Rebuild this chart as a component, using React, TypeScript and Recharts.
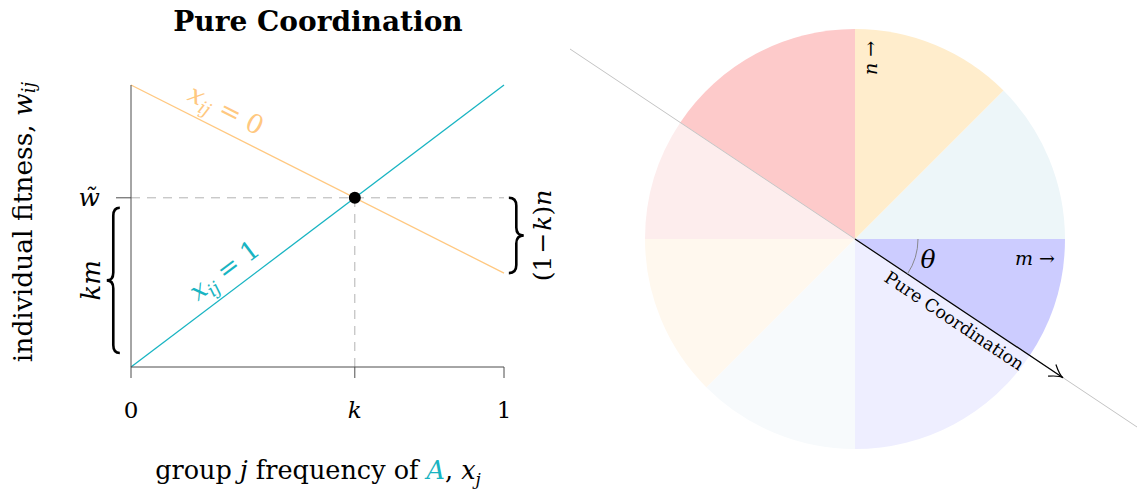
import React from 'react';
import {
  LineChart,
  Line,
  XAxis,
  YAxis,
  ReferenceLine,
  ReferenceDot,
  ReferenceArea,
  PieChart,
  Pie,
  Cell,
  Customized,
} from 'recharts';

const FONT = '"DejaVu Serif", "Liberation Serif", serif';
const INK = '#000000';
const AXIS = '#4d4d4d';
const ORANGE = '#FFC880';
const TEAL = '#18B4C2';
const GUIDE = '#b3b3b3';

// ---- left panel: fitness against group frequency ----
const groupFrequency = [0, 1];
const fitnessWithA = [0, 1]; // x_ij = 1
const fitnessWithoutA = [1, 0.333]; // x_ij = 0
const thresholdK = 0.6;
const meanFitness = 0.6;
const freqTicks = [0, 0.6, 1];
const freqTickLabels = ['0', 'k', '1'];

// ---- right panel: game-space wedges, degrees counter-clockwise from the m axis ----
const wedgeNames = [
  'upper-right',
  'upper',
  'upper-left (above)',
  'upper-left (below)',
  'lower-left',
  'lower',
  'lower-right (below)',
  'lower-right (above)',
];
const wedgeSpans = [45, 45, 56.31, 33.69, 45, 45, 56.31, 33.69];
const wedgeColors = ['#EDF6F9', '#FFEDCC', '#FDCACA', '#FDEDED', '#FFF8EE', '#F7FAFC', '#EEEEFF', '#CCCCFF'];
const thetaDeg = 33.69;

const lineData = groupFrequency.map((x, i) => ({
  x,
  withA: fitnessWithA[i],
  withoutA: fitnessWithoutA[i],
}));

const wedgeData = wedgeNames.map((name, i) => ({ name, span: wedgeSpans[i] }));

// plot box of the left panel (pixels)
const PLOT_W = 373;
const PLOT_H = 282;

const onLine = (series: number[], x: number) => series[0] + (series[1] - series[0]) * x;
const slopeAngle = (series: number[]) =>
  (Math.atan2(-(series[1] - series[0]) * PLOT_H, PLOT_W) * 180) / Math.PI;

const FreqTick = (props: any) => {
  const idx = freqTicks.indexOf(props.payload.value);
  const label = freqTickLabels[idx] ?? '';
  return (
    <text
      x={props.x}
      y={props.y + 38}
      textAnchor="middle"
      fontFamily={FONT}
      fontSize={23}
      fontStyle={label === 'k' ? 'italic' : 'normal'}
      fill={INK}
    >
      {label}
    </text>
  );
};

const FitnessTick = (props: any) => (
  <text x={props.x - 14} y={props.y + 8} textAnchor="end" fontFamily={FONT} fontSize={25} fontStyle="italic" fill={INK}>
    {'w\u0303'}
  </text>
);

const lineLabel =
  (series: number[], color: string, value: string) =>
  (props: any) => (
    <g transform={`translate(${props.cx},${props.cy}) rotate(${slopeAngle(series)})`}>
      <text x={0} y={-12} textAnchor="middle" fontFamily={FONT} fontSize={26} fill={color}>
        <tspan fontStyle="italic">x</tspan>
        <tspan fontStyle="italic" fontSize={18} dy={6}>
          ij
        </tspan>
        <tspan dy={-6} dx={8}>
          =
        </tspan>
        <tspan dx={8}>{value}</tspan>
      </text>
    </g>
  );

const bracePath = (x0: number, x1: number, top: number, bottom: number) => {
  // x0 = tip side, x1 = open side
  const xm = (x0 + x1) / 2;
  const ym = (top + bottom) / 2;
  const q = 8;
  return [
    `M ${x1} ${top}`,
    `Q ${xm} ${top} ${xm} ${top + q}`,
    `L ${xm} ${ym - q}`,
    `Q ${xm} ${ym} ${x0} ${ym}`,
    `Q ${xm} ${ym} ${xm} ${ym + q}`,
    `L ${xm} ${bottom - q}`,
    `Q ${xm} ${bottom} ${x1} ${bottom}`,
  ].join(' ');
};

const LeftBrace = (props: any) => {
  const { x, y, width, height } = props;
  const top = y + 10;
  const bottom = y + height - 14;
  return (
    <g>
      <path d={bracePath(x, x + width, top, bottom)} fill="none" stroke={INK} strokeWidth={2.6} />
      <text
        transform={`translate(${x - 16},${(top + bottom) / 2}) rotate(-90)`}
        textAnchor="middle"
        dominantBaseline="central"
        fontFamily={FONT}
        fontSize={26}
        fontStyle="italic"
        fill={INK}
      >
        km
      </text>
    </g>
  );
};

const RightBrace = (props: any) => {
  const { x, y, width, height } = props;
  const top = y;
  const bottom = y + height;
  return (
    <g>
      <path d={bracePath(x + width, x, top, bottom)} fill="none" stroke={INK} strokeWidth={2.6} />
      <text
        transform={`translate(${x + width + 18},${(top + bottom) / 2}) rotate(-90)`}
        textAnchor="middle"
        dominantBaseline="central"
        fontFamily={FONT}
        fontSize={25}
        fill={INK}
      >
        <tspan>(1</tspan>
        <tspan dx={2}>−</tspan>
        <tspan fontStyle="italic" dx={2}>
          k
        </tspan>
        <tspan>)</tspan>
        <tspan fontStyle="italic">n</tspan>
      </text>
    </g>
  );
};

const FitnessTitles = () => (
  <g fontFamily={FONT} fill={INK}>
    <text x={318} y={31} textAnchor="middle" fontSize={28} fontWeight="bold">
      Pure Coordination
    </text>
    <text
      transform="translate(22,222) rotate(-90)"
      textAnchor="middle"
      dominantBaseline="central"
      fontSize={26.5}
    >
      individual fitness,{' '}
      <tspan fontStyle="italic">w</tspan>
      <tspan fontStyle="italic" fontSize={18} dy={6}>
        ij
      </tspan>
    </text>
    <text x={318} y={479} textAnchor="middle" fontSize={25.5}>
      group <tspan fontStyle="italic">j</tspan> frequency of{' '}
      <tspan fontStyle="italic" fill={TEAL}>
        A
      </tspan>
      , <tspan fontStyle="italic">x</tspan>
      <tspan fontStyle="italic" fontSize={17} dy={6}>
        j
      </tspan>
    </text>
  </g>
);

const FitnessPanel = () => (
  <LineChart width={570} height={500} data={lineData} margin={{ top: 85, right: 66, bottom: 73, left: 0 }}>
    <XAxis
      type="number"
      dataKey="x"
      domain={[0, 1]}
      ticks={freqTicks}
      interval={0}
      height={60}
      tickSize={11}
      stroke={AXIS}
      tick={<FreqTick />}
    />
    <YAxis
      type="number"
      domain={[0, 1]}
      ticks={[meanFitness]}
      interval={0}
      width={131}
      tickSize={15}
      stroke={AXIS}
      tick={<FitnessTick />}
    />
    <ReferenceLine y={meanFitness} stroke={GUIDE} strokeDasharray="9 7" />
    <ReferenceLine
      segment={[
        { x: thresholdK, y: 0 },
        { x: thresholdK, y: meanFitness },
      ]}
      stroke={GUIDE}
      strokeDasharray="9 7"
    />
    <Line
      type="linear"
      dataKey="withoutA"
      stroke={ORANGE}
      strokeWidth={1.3}
      dot={false}
      isAnimationActive={false}
    />
    <Line type="linear" dataKey="withA" stroke={TEAL} strokeWidth={1.3} dot={false} isAnimationActive={false} />
    <ReferenceDot x={thresholdK} y={meanFitness} r={6} fill={INK} stroke="none" />
    <ReferenceDot
      x={0.23}
      y={onLine(fitnessWithoutA, 0.23)}
      r={0}
      ifOverflow="visible"
      shape={lineLabel(fitnessWithoutA, ORANGE, '0')}
    />
    <ReferenceDot
      x={0.284}
      y={onLine(fitnessWithA, 0.284)}
      r={0}
      ifOverflow="visible"
      shape={lineLabel(fitnessWithA, TEAL, '1')}
    />
    <ReferenceArea
      x1={-0.065}
      x2={-0.03}
      y1={0}
      y2={meanFitness}
      ifOverflow="visible"
      shape={<LeftBrace />}
    />
    <ReferenceArea
      x1={1.013}
      x2={1.053}
      y1={fitnessWithoutA[1]}
      y2={meanFitness}
      ifOverflow="visible"
      shape={<RightBrace />}
    />
    <Customized component={FitnessTitles} />
  </LineChart>
);

// ---- right panel ----
const PANEL_W = 567;
const PANEL_H = 500;
const CX = 285;
const CY = 239;
const R = 210;

// direction line, arrow, angle mark and axis names drawn above the wedges
const GameSpaceOverlay = () => {
  const a = (thetaDeg * Math.PI) / 180;
  const ux = Math.cos(a);
  const uy = Math.sin(a);
  const nx = -uy;
  const ny = ux;
  const reach = 345;
  const arrowLen = 250;
  const tipX = CX + ux * arrowLen;
  const tipY = CY + uy * arrowLen;
  const barb = 15;
  const spread = (28 * Math.PI) / 180;
  const barbPt = (s: number) => {
    const ang = a + Math.PI + s;
    return [tipX + Math.cos(ang) * barb, tipY + Math.sin(ang) * barb];
  };
  const [b1x, b1y] = barbPt(spread);
  const [b2x, b2y] = barbPt(-spread);
  const arcR = 63;
  const labelDist = 128;
  const labelOff = 13;
  const lx = CX + ux * labelDist + nx * labelOff;
  const ly = CY + uy * labelDist + ny * labelOff;
  return (
    <svg
      width={PANEL_W}
      height={PANEL_H}
      style={{ position: 'absolute', left: 0, top: 0, pointerEvents: 'none' }}
    >
      <g fontFamily={FONT} fill={INK}>
        <line
          x1={CX - ux * reach}
          y1={CY - uy * reach}
          x2={CX + ux * reach}
          y2={CY + uy * reach}
          stroke="#c4c4c4"
          strokeWidth={1}
        />
        <line x1={CX} y1={CY} x2={tipX} y2={tipY} stroke={INK} strokeWidth={1.2} />
        <path
          d={`M ${b1x} ${b1y} Q ${tipX - ux * 4} ${tipY - uy * 4} ${tipX} ${tipY} Q ${tipX - ux * 4} ${tipY - uy * 4} ${b2x} ${b2y}`}
          fill="none"
          stroke={INK}
          strokeWidth={1.2}
        />
        <path
          d={`M ${CX + arcR} ${CY} A ${arcR} ${arcR} 0 0 1 ${CX + arcR * ux} ${CY + arcR * uy}`}
          fill="none"
          stroke="#808080"
          strokeWidth={0.9}
        />
        <text x={CX + 73} y={CY + 29} textAnchor="middle" fontSize={25} fontStyle="italic">
          θ
        </text>
        <text x={CX + 180} y={CY + 26} textAnchor="middle" fontSize={19}>
          <tspan fontStyle="italic">m</tspan> →
        </text>
        <text
          transform={`translate(${CX + 15},${CY - 181}) rotate(-90)`}
          textAnchor="middle"
          dominantBaseline="central"
          fontSize={19}
        >
          <tspan fontStyle="italic">n</tspan> →
        </text>
        <text
          transform={`translate(${lx},${ly}) rotate(${thetaDeg})`}
          textAnchor="middle"
          dominantBaseline="central"
          fontSize={17.5}
        >
          Pure Coordination
        </text>
      </g>
    </svg>
  );
};

const GameSpacePanel = () => (
  <div style={{ position: 'relative', width: PANEL_W, height: PANEL_H }}>
    <PieChart width={PANEL_W} height={PANEL_H} margin={{ top: 0, right: 0, bottom: 0, left: 0 }}>
      <Pie
        data={wedgeData}
        dataKey="span"
        nameKey="name"
        cx={CX}
        cy={CY}
        innerRadius={0}
        outerRadius={R}
        startAngle={0}
        endAngle={360}
        stroke="none"
        label={false}
        labelLine={false}
        isAnimationActive={false}
      >
        {wedgeData.map((w, i) => (
          <Cell key={w.name} fill={wedgeColors[i]} stroke="none" />
        ))}
      </Pie>
    </PieChart>
    <GameSpaceOverlay />
  </div>
);

export default function App() {
  return (
    <div style={{ position: 'absolute', left: 0, top: 0, width: 1137, height: 500, background: '#ffffff' }}>
      <div style={{ position: 'absolute', left: 0, top: 0 }}>
        <FitnessPanel />
      </div>
      <div style={{ position: 'absolute', left: 570, top: 0 }}>
        <GameSpacePanel />
      </div>
    </div>
  );
}
